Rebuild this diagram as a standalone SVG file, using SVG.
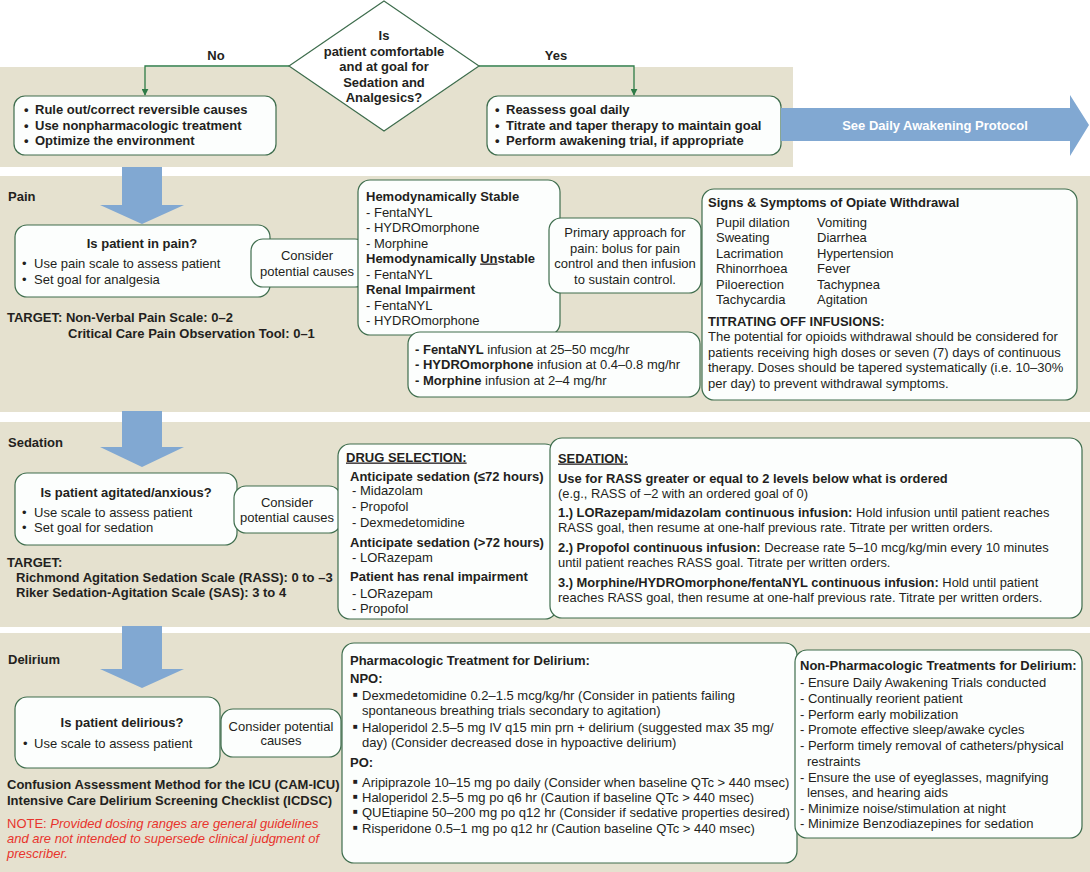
<svg xmlns="http://www.w3.org/2000/svg" width="1090" height="872" viewBox="0 0 1090 872">
<defs>
<style>
.band{fill:#e5e1cf}
.box{fill:#fcfefd;stroke:#3e6d4d;stroke-width:1.2}
text{font-family:"Liberation Sans",Arial,Helvetica,sans-serif;font-size:13px;fill:#231f20}
.b{font-weight:bold}
.c{text-anchor:middle}
.s{font-size:12.9px}
.blue{fill:#81a8d2}
.conn{stroke:#2e7b47;stroke-width:1.3;fill:none}
.red{fill:#e8342d}
.u{text-decoration:underline}
.sq{font-size:8px}
</style>
<marker id="ah" viewBox="0 0 10 10" refX="9" refY="5" markerWidth="7" markerHeight="7" orient="auto" markerUnits="userSpaceOnUse">
<path d="M0,0 L10,5 L0,10 z" fill="#2e7b47"/>
</marker>
</defs>
<rect width="1090" height="872" fill="#ffffff"/>

<!-- bands -->
<rect class="band" x="0" y="67" width="793" height="100"/>
<rect class="band" x="0" y="176" width="1090" height="236"/>
<rect class="band" x="0" y="422" width="1090" height="205"/>
<rect class="band" x="0" y="633" width="1090" height="239"/>

<!-- big blue arrows -->
<g id="flow-arrows">
<polygon class="blue" points="122,167 162,167 162,205 184,205 142,224 100,205 122,205"/>
<polygon class="blue" points="122,411 162,411 162,447 184,447 142,467 100,447 122,447"/>
<polygon class="blue" points="122,626 162,626 162,669 184,669 142,688 100,669 122,669"/>
</g>

<g id="connectors">
<polyline class="conn" points="289,66 145,66 145,95" marker-end="url(#ah)"/>
<polyline class="conn" points="479,66 634,66 634,95" marker-end="url(#ah)"/>
<text class="b c" x="216" y="60">No</text>
<text class="b c" x="556" y="60">Yes</text>
</g>

<g id="decision">
<polygon points="384,1 479,66 384,131 289,66" fill="#ffffff" stroke="#3e6d4d" stroke-width="1.2"/>
<text class="b c" x="384" y="39.5">Is</text>
<text class="b c" x="384" y="56">patient comfortable</text>
<text class="b c" x="384" y="71">and at goal for</text>
<text class="b c" x="384" y="86.5">Sedation and</text>
<text class="b c" x="384" y="101.5">Analgesics?</text>
</g>

<g id="no-box">
<rect class="box" x="14" y="96" width="262" height="59" rx="11"/>
<text class="b" x="24" y="113.5">•</text><text class="b" x="35" y="113.5">Rule out/correct reversible causes</text>
<text class="b" x="24" y="129.5">•</text><text class="b" x="35" y="129.5">Use nonpharmacologic treatment</text>
<text class="b" x="24" y="144.5">•</text><text class="b" x="35" y="144.5">Optimize the environment</text>
</g>

<g id="yes-box">
<rect class="box" x="487" y="96" width="294" height="59" rx="11"/>
<text class="b" x="495" y="113.5">•</text><text class="b" x="506" y="113.5">Reassess goal daily</text>
<text class="b" x="495" y="129.5">•</text><text class="b" x="506" y="129.5">Titrate and taper therapy to maintain goal</text>
<text class="b" x="495" y="144.5">•</text><text class="b" x="506" y="144.5">Perform awakening trial, if appropriate</text>
</g>

<g id="daily-awakening">
<polygon class="blue" points="781,108 1070,108 1070,95 1089,125 1070,156 1070,141 781,141"/>
<text class="b c" x="935" y="129.5" style="fill:#ffffff">See Daily Awakening Protocol</text>
</g>

<!-- PAIN -->
<text class="b" x="8" y="200.5">Pain</text>
<g id="pain-box">
<rect class="box" x="15" y="225" width="255" height="72" rx="12"/>
<text class="b c" x="142" y="247.5">Is patient in pain?</text>
<text x="22" y="267.5">•</text><text x="34" y="267.5">Use pain scale to assess patient</text>
<text x="22" y="283.5">•</text><text x="34" y="283.5">Set goal for analgesia</text>
</g>
<g id="pain-causes">
<rect class="box" x="251" y="239" width="116" height="48" rx="12"/>
<text class="c" x="307" y="260">Consider</text>
<text class="c" x="307" y="275.5">potential causes</text>
</g>
<text class="b" x="7" y="321.5">TARGET: Non-Verbal Pain Scale: 0–2</text>
<text class="b" x="68" y="337.5">Critical Care Pain Observation Tool: 0–1</text>

<g id="pain-drugs">
<rect class="box" x="358" y="180" width="202" height="155" rx="12"/>
<text class="b" x="366" y="200.5">Hemodynamically Stable</text>
<text x="366" y="216.5">- FentaNYL</text>
<text x="366" y="231.5">- HYDROmorphone</text>
<text x="366" y="247.5">- Morphine</text>
<text class="b" x="366" y="262.5">Hemodynamically <tspan class="u">Un</tspan>stable</text>
<text x="366" y="278.5">- FentaNYL</text>
<text class="b" x="366" y="293.5">Renal Impairment</text>
<text x="366" y="309.5">- FentaNYL</text>
<text x="366" y="324.5">- HYDROmorphone</text>
</g>
<g id="pain-approach">
<rect class="box" x="549" y="218" width="152" height="75" rx="12"/>
<text class="c" x="625" y="236.5">Primary approach for</text>
<text class="c" x="625" y="252.5">pain: bolus for pain</text>
<text class="c" x="625" y="267.5">control and then infusion</text>
<text class="c" x="625" y="283.5">to sustain control.</text>
</g>
<g id="pain-infusion">
<rect class="box" x="408" y="332" width="292" height="65" rx="12"/>
<text x="415" y="353.5"><tspan class="b">- FentaNYL</tspan> infusion at 25–50 mcg/hr</text>
<text x="415" y="368.5"><tspan class="b">- HYDROmorphone</tspan> infusion at 0.4–0.8 mg/hr</text>
<text x="415" y="384.5"><tspan class="b">- Morphine</tspan> infusion at 2–4 mg/hr</text>
</g>
<g id="opiate-withdrawal">
<rect class="box" x="702" y="189" width="375" height="211" rx="12"/>
<text class="b" x="708" y="206.5">Signs &amp; Symptoms of Opiate Withdrawal</text>
<text x="716" y="226.5">Pupil dilation</text><text x="817" y="226.5">Vomiting</text>
<text x="716" y="241.5">Sweating</text><text x="817" y="241.5">Diarrhea</text>
<text x="716" y="257.5">Lacrimation</text><text x="817" y="257.5">Hypertension</text>
<text x="716" y="272.5">Rhinorrhoea</text><text x="817" y="272.5">Fever</text>
<text x="716" y="288.5">Piloerection</text><text x="817" y="288.5">Tachypnea</text>
<text x="716" y="303.5">Tachycardia</text><text x="817" y="303.5">Agitation</text>
<text class="b" x="708" y="325.5">TITRATING OFF INFUSIONS:</text>
<text x="708" y="340.5">The potential for opioids withdrawal should be considered for</text>
<text x="708" y="356.5">patients receiving high doses or seven (7) days of continuous</text>
<text x="708" y="371.5">therapy. Doses should be tapered systematically (i.e. 10–30%</text>
<text x="708" y="387.5">per day) to prevent withdrawal symptoms.</text>
</g>

<!-- SEDATION -->
<text class="b" x="8" y="446.5">Sedation</text>
<g id="sedation-box">
<rect class="box" x="15" y="473" width="222" height="72" rx="12"/>
<text class="b c" x="126" y="496.5">Is patient agitated/anxious?</text>
<text x="22" y="516.5">•</text><text x="34" y="516.5">Use scale to assess patient</text>
<text x="22" y="531.5">•</text><text x="34" y="531.5">Set goal for sedation</text>
</g>
<g id="sedation-causes">
<rect class="box" x="234" y="486" width="107" height="47" rx="12"/>
<text class="c" x="287" y="506.5">Consider</text>
<text class="c" x="287" y="521.5">potential causes</text>
</g>
<text class="b" x="7" y="566.5">TARGET:</text>
<text class="b" x="16" y="581.5">Richmond Agitation Sedation Scale (RASS): 0 to –3</text>
<text class="b" x="16" y="596.5">Riker Sedation-Agitation Scale (SAS): 3 to 4</text>

<g id="drug-selection">
<rect class="box" x="338" y="444" width="219" height="175" rx="12"/>
<text class="b u" x="346" y="461.5">DRUG SELECTION:</text>
<text class="b" x="350" y="480.5">Anticipate sedation (≤72 hours)</text>
<text x="352" y="494.5">- Midazolam</text>
<text x="352" y="510.5">- Propofol</text>
<text x="352" y="526.5">- Dexmedetomidine</text>
<text class="b" x="350" y="546.5">Anticipate sedation (&gt;72 hours)</text>
<text x="352" y="561.5">- LORazepam</text>
<text class="b" x="350" y="580.5">Patient has renal impairment</text>
<text x="352" y="597.5">- LORazepam</text>
<text x="352" y="612.5">- Propofol</text>
</g>
<g id="sedation-weaning">
<rect class="box" x="550" y="438" width="532" height="180" rx="12"/>
<text class="b u s" x="558" y="462.5">SEDATION:</text>
<text class="b s" x="558" y="482.5">Use for RASS greater or equal to 2 levels below what is ordered</text>
<text class="s" x="558" y="497.5">(e.g., RASS of –2 with an ordered goal of 0)</text>
<text class="s" x="558" y="516.5"><tspan class="b">1.) LORazepam/midazolam continuous infusion:</tspan> Hold infusion until patient reaches</text>
<text class="s" x="558" y="531.5">RASS goal, then resume at one-half previous rate. Titrate per written orders.</text>
<text class="s" x="558" y="552"><tspan class="b">2.) Propofol continuous infusion:</tspan> Decrease rate 5–10 mcg/kg/min every 10 minutes</text>
<text class="s" x="558" y="567">until patient reaches RASS goal. Titrate per written orders.</text>
<text class="s" x="558" y="587"><tspan class="b">3.) Morphine/HYDROmorphone/fentaNYL continuous infusion:</tspan> Hold until patient</text>
<text class="s" x="558" y="602">reaches RASS goal, then resume at one-half previous rate. Titrate per written orders.</text>
</g>

<!-- DELIRIUM -->
<text class="b" x="8" y="663.5">Delirium</text>
<g id="delirium-box">
<rect class="box" x="15" y="697" width="205" height="71" rx="12"/>
<text class="b c" x="122" y="726.5">Is patient delirious?</text>
<text x="23" y="747.5">•</text><text x="34" y="747.5">Use scale to assess patient</text>
</g>
<g id="delirium-causes">
<rect class="box" x="221" y="709" width="120" height="48" rx="12"/>
<text class="c" x="281" y="730.5">Consider potential</text>
<text class="c" x="281" y="744.5">causes</text>
</g>
<text class="b" x="7" y="788.5">Confusion Assessment Method for the ICU (CAM-ICU)</text>
<text class="b" x="7" y="804.5">Intensive Care Delirium Screening Checklist (ICDSC)</text>
<text class="red" x="7" y="827.5">NOTE: <tspan font-style="italic">Provided dosing ranges are general guidelines</tspan></text>
<text class="red" x="7" y="842.5" font-style="italic">and are not intended to supersede clinical judgment of</text>
<text class="red" x="7" y="857.5" font-style="italic">prescriber.</text>

<g id="pharmacologic">
<rect class="box" x="342" y="643" width="455" height="220" rx="12"/>
<text class="b" x="350" y="664.5">Pharmacologic Treatment for Delirium:</text>
<text class="b" x="350" y="682.5">NPO:</text>
<text class="sq" x="353" y="697">■</text><text x="362" y="699.5">Dexmedetomidine 0.2–1.5 mcg/kg/hr (Consider in patients failing</text>
<text x="362" y="714.5">spontaneous breathing trials secondary to agitation)</text>
<text class="sq" x="353" y="729">■</text><text x="362" y="731.5">Haloperidol 2.5–5 mg IV q15 min prn + delirium (suggested max 35 mg/</text>
<text x="362" y="746.5">day) (Consider decreased dose in hypoactive delirium)</text>
<text class="b" x="350" y="766.5">PO:</text>
<text class="sq" x="353" y="784">■</text><text x="362" y="786.5">Aripiprazole 10–15 mg po daily (Consider when baseline QTc &gt; 440 msec)</text>
<text class="sq" x="353" y="799">■</text><text x="362" y="801.5">Haloperidol 2.5–5 mg po q6 hr (Caution if baseline QTc &gt; 440 msec)</text>
<text class="sq" x="353" y="814">■</text><text x="362" y="816.5">QUEtiapine 50–200 mg po q12 hr (Consider if sedative properties desired)</text>
<text class="sq" x="353" y="830">■</text><text x="362" y="832.5">Risperidone 0.5–1 mg po q12 hr (Caution baseline QTc &gt; 440 msec)</text>
</g>
<g id="non-pharmacologic">
<rect class="box" x="795" y="650" width="287" height="188" rx="12"/>
<text class="b" x="800" y="669.5">Non-Pharmacologic Treatments for Delirium:</text>
<text x="800" y="686.5">- Ensure Daily Awakening Trials conducted</text>
<text x="800" y="702.5">- Continually reorient patient</text>
<text x="800" y="718.5">- Perform early mobilization</text>
<text x="800" y="733.5">- Promote effective sleep/awake cycles</text>
<text x="800" y="749.5">- Perform timely removal of catheters/physical</text>
<text x="807" y="765.5">restraints</text>
<text x="800" y="781.5">- Ensure the use of eyeglasses, magnifying</text>
<text x="807" y="796.5">lenses, and hearing aids</text>
<text x="800" y="812.5">- Minimize noise/stimulation at night</text>
<text x="800" y="827.5">- Minimize Benzodiazepines for sedation</text>
</g>
</svg>
